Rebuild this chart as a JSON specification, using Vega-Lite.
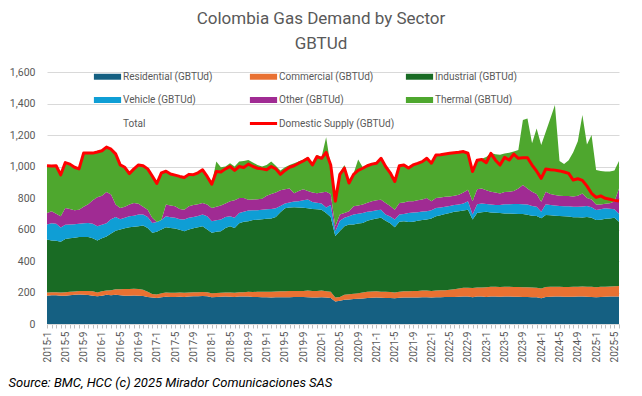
{
  "$schema": "https://vega.github.io/schema/vega-lite/v6.json",
  "width": 572,
  "height": 252,
  "autosize": {"type": "none"},
  "padding": {"left": 47, "top": 72, "right": 23, "bottom": 72},
  "background": "white",
  "config": {
    "font": "Roboto",
    "view": {"stroke": null},
    "axisY": {"grid": true, "gridColor": "#D9D9D9", "domain": false, "ticks": false, "labelColor": "#595959", "labelFontSize": 10.5, "labelPadding": 12, "labelFont": "Roboto"},
    "axisX": {"grid": false, "domainColor": "#D9D9D9", "tickColor": "#BFBFBF", "tickSize": 4, "labelColor": "#595959", "labelFontSize": 10, "labelFont": "Roboto", "labelPadding": 3}
  },
  "title": {
    "text": ["Colombia Gas Demand by Sector", "GBTUd"],
    "anchor": "middle",
    "dx": -12,
    "fontSize": 17,
    "font": "Roboto",
    "fontWeight": "normal",
    "color": "#595959",
    "lineHeight": 25,
    "offset": 14
  },
  "datasets": {
    "series": [
      {"key": "res", "label": "Residential (GBTUd)", "ord": 1},
      {"key": "com", "label": "Commercial (GBTUd)", "ord": 2},
      {"key": "ind", "label": "Industrial (GBTUd)", "ord": 3},
      {"key": "veh", "label": "Vehicle (GBTUd)", "ord": 4},
      {"key": "oth", "label": "Other (GBTUd)", "ord": 5},
      {"key": "thm", "label": "Thermal (GBTUd)", "ord": 6}
    ]
  },
  "data": {"values": [
    {"m":"2015-1","res":180,"com":20,"ind":337,"veh":95,"oth":73,"thm":297,"sup":1005},
    {"m":"2015-2","res":182,"com":20,"ind":328,"veh":110,"oth":76,"thm":284,"sup":1003},
    {"m":"2015-3","res":182,"com":20,"ind":326,"veh":108,"oth":64,"thm":303,"sup":1005},
    {"m":"2015-4","res":180,"com":20,"ind":322,"veh":90,"oth":72,"thm":261,"sup":947},
    {"m":"2015-5","res":180,"com":22,"ind":338,"veh":90,"oth":107,"thm":283,"sup":1025},
    {"m":"2015-6","res":183,"com":22,"ind":340,"veh":87,"oth":98,"thm":280,"sup":1015},
    {"m":"2015-7","res":185,"com":22,"ind":341,"veh":86,"oth":88,"thm":268,"sup":995},
    {"m":"2015-8","res":188,"com":22,"ind":342,"veh":84,"oth":89,"thm":257,"sup":985},
    {"m":"2015-9","res":186,"com":24,"ind":342,"veh":88,"oth":105,"thm":335,"sup":1085},
    {"m":"2015-10","res":184,"com":26,"ind":342,"veh":90,"oth":118,"thm":320,"sup":1085},
    {"m":"2015-11","res":180,"com":28,"ind":337,"veh":91,"oth":149,"thm":297,"sup":1085},
    {"m":"2015-12","res":176,"com":24,"ind":330,"veh":91,"oth":184,"thm":285,"sup":1092},
    {"m":"2016-1","res":180,"com":28,"ind":337,"veh":85,"oth":185,"thm":285,"sup":1100},
    {"m":"2016-2","res":185,"com":27,"ind":343,"veh":85,"oth":198,"thm":282,"sup":1123},
    {"m":"2016-3","res":183,"com":32,"ind":360,"veh":90,"oth":157,"thm":286,"sup":1110},
    {"m":"2016-4","res":186,"com":34,"ind":372,"veh":88,"oth":78,"thm":320,"sup":1080},
    {"m":"2016-5","res":182,"com":38,"ind":380,"veh":65,"oth":72,"thm":271,"sup":1010},
    {"m":"2016-6","res":180,"com":42,"ind":386,"veh":67,"oth":70,"thm":248,"sup":995},
    {"m":"2016-7","res":180,"com":42,"ind":393,"veh":69,"oth":74,"thm":195,"sup":955},
    {"m":"2016-8","res":181,"com":43,"ind":394,"veh":70,"oth":80,"thm":215,"sup":985},
    {"m":"2016-9","res":180,"com":42,"ind":399,"veh":74,"oth":69,"thm":244,"sup":1010},
    {"m":"2016-10","res":178,"com":40,"ind":407,"veh":70,"oth":50,"thm":258,"sup":1005},
    {"m":"2016-11","res":172,"com":33,"ind":405,"veh":70,"oth":46,"thm":257,"sup":985},
    {"m":"2016-12","res":168,"com":22,"ind":390,"veh":62,"oth":32,"thm":264,"sup":940},
    {"m":"2017-1","res":165,"com":23,"ind":397,"veh":63,"oth":0,"thm":242,"sup":892},
    {"m":"2017-2","res":170,"com":25,"ind":405,"veh":60,"oth":0,"thm":298,"sup":960},
    {"m":"2017-3","res":173,"com":27,"ind":415,"veh":69,"oth":74,"thm":210,"sup":970},
    {"m":"2017-4","res":172,"com":26,"ind":412,"veh":68,"oth":74,"thm":198,"sup":952},
    {"m":"2017-5","res":172,"com":26,"ind":408,"veh":68,"oth":73,"thm":195,"sup":945},
    {"m":"2017-6","res":173,"com":27,"ind":398,"veh":67,"oth":65,"thm":205,"sup":937},
    {"m":"2017-7","res":172,"com":26,"ind":391,"veh":74,"oth":63,"thm":206,"sup":930},
    {"m":"2017-8","res":175,"com":25,"ind":400,"veh":74,"oth":73,"thm":205,"sup":950},
    {"m":"2017-9","res":176,"com":26,"ind":406,"veh":72,"oth":75,"thm":195,"sup":948},
    {"m":"2017-10","res":176,"com":26,"ind":413,"veh":71,"oth":74,"thm":202,"sup":960},
    {"m":"2017-11","res":177,"com":26,"ind":418,"veh":74,"oth":73,"thm":214,"sup":979},
    {"m":"2017-12","res":176,"com":26,"ind":398,"veh":84,"oth":74,"thm":182,"sup":937},
    {"m":"2018-1","res":170,"com":25,"ind":384,"veh":74,"oth":84,"thm":153,"sup":888},
    {"m":"2018-2","res":172,"com":25,"ind":388,"veh":73,"oth":87,"thm":286,"sup":968},
    {"m":"2018-3","res":173,"com":25,"ind":391,"veh":74,"oth":89,"thm":243,"sup":965},
    {"m":"2018-4","res":174,"com":26,"ind":410,"veh":70,"oth":85,"thm":235,"sup":985},
    {"m":"2018-5","res":173,"com":27,"ind":421,"veh":63,"oth":95,"thm":242,"sup":1000},
    {"m":"2018-6","res":172,"com":26,"ind":412,"veh":64,"oth":111,"thm":215,"sup":975},
    {"m":"2018-7","res":174,"com":28,"ind":438,"veh":65,"oth":95,"thm":231,"sup":1000},
    {"m":"2018-8","res":174,"com":28,"ind":448,"veh":62,"oth":88,"thm":235,"sup":994},
    {"m":"2018-9","res":175,"com":29,"ind":449,"veh":67,"oth":69,"thm":253,"sup":1015},
    {"m":"2018-10","res":172,"com":31,"ind":457,"veh":62,"oth":68,"thm":235,"sup":1000},
    {"m":"2018-11","res":172,"com":33,"ind":457,"veh":60,"oth":70,"thm":218,"sup":989},
    {"m":"2018-12","res":170,"com":35,"ind":460,"veh":60,"oth":70,"thm":205,"sup":985},
    {"m":"2019-1","res":170,"com":35,"ind":463,"veh":60,"oth":87,"thm":195,"sup":980},
    {"m":"2019-2","res":168,"com":37,"ind":465,"veh":60,"oth":95,"thm":206,"sup":1000},
    {"m":"2019-3","res":170,"com":36,"ind":474,"veh":55,"oth":100,"thm":170,"sup":985},
    {"m":"2019-4","res":170,"com":38,"ind":502,"veh":40,"oth":100,"thm":125,"sup":950},
    {"m":"2019-5","res":170,"com":38,"ind":527,"veh":30,"oth":90,"thm":140,"sup":975},
    {"m":"2019-6","res":170,"com":40,"ind":530,"veh":32,"oth":88,"thm":150,"sup":995},
    {"m":"2019-7","res":171,"com":39,"ind":532,"veh":36,"oth":52,"thm":190,"sup":1005},
    {"m":"2019-8","res":172,"com":38,"ind":530,"veh":40,"oth":65,"thm":186,"sup":1021},
    {"m":"2019-9","res":171,"com":39,"ind":528,"veh":47,"oth":70,"thm":190,"sup":1035},
    {"m":"2019-10","res":170,"com":42,"ind":523,"veh":55,"oth":55,"thm":215,"sup":1052},
    {"m":"2019-11","res":168,"com":42,"ind":520,"veh":45,"oth":60,"thm":185,"sup":1010},
    {"m":"2019-12","res":168,"com":42,"ind":518,"veh":42,"oth":60,"thm":243,"sup":1063},
    {"m":"2020-1","res":170,"com":42,"ind":513,"veh":40,"oth":70,"thm":225,"sup":1052},
    {"m":"2020-2","res":168,"com":40,"ind":497,"veh":35,"oth":100,"thm":345,"sup":1090},
    {"m":"2020-3","res":165,"com":40,"ind":475,"veh":75,"oth":70,"thm":175,"sup":1010},
    {"m":"2020-4","res":143,"com":25,"ind":390,"veh":31,"oth":32,"thm":168,"sup":780},
    {"m":"2020-5","res":148,"com":24,"ind":418,"veh":65,"oth":40,"thm":265,"sup":950},
    {"m":"2020-6","res":154,"com":31,"ind":436,"veh":53,"oth":31,"thm":305,"sup":990},
    {"m":"2020-7","res":155,"com":34,"ind":442,"veh":53,"oth":32,"thm":189,"sup":895},
    {"m":"2020-8","res":158,"com":34,"ind":439,"veh":64,"oth":52,"thm":208,"sup":950},
    {"m":"2020-9","res":160,"com":35,"ind":443,"veh":62,"oth":52,"thm":293,"sup":975},
    {"m":"2020-10","res":162,"com":38,"ind":442,"veh":63,"oth":53,"thm":237,"sup":989},
    {"m":"2020-11","res":165,"com":40,"ind":450,"veh":57,"oth":58,"thm":240,"sup":1005},
    {"m":"2020-12","res":166,"com":40,"ind":457,"veh":53,"oth":63,"thm":241,"sup":1015},
    {"m":"2021-1","res":168,"com":40,"ind":462,"veh":52,"oth":63,"thm":240,"sup":1021},
    {"m":"2021-2","res":166,"com":39,"ind":469,"veh":52,"oth":63,"thm":266,"sup":1052},
    {"m":"2021-3","res":165,"com":40,"ind":450,"veh":40,"oth":73,"thm":235,"sup":1000},
    {"m":"2021-4","res":165,"com":38,"ind":437,"veh":42,"oth":68,"thm":212,"sup":960},
    {"m":"2021-5","res":163,"com":37,"ind":415,"veh":48,"oth":63,"thm":182,"sup":905},
    {"m":"2021-6","res":166,"com":39,"ind":445,"veh":45,"oth":73,"thm":240,"sup":1005},
    {"m":"2021-7","res":168,"com":40,"ind":444,"veh":46,"oth":74,"thm":240,"sup":1010},
    {"m":"2021-8","res":168,"com":40,"ind":440,"veh":57,"oth":74,"thm":214,"sup":990},
    {"m":"2021-9","res":168,"com":42,"ind":440,"veh":58,"oth":71,"thm":234,"sup":1010},
    {"m":"2021-10","res":168,"com":42,"ind":445,"veh":55,"oth":75,"thm":238,"sup":1020},
    {"m":"2021-11","res":170,"com":42,"ind":448,"veh":54,"oth":76,"thm":244,"sup":1031},
    {"m":"2021-12","res":170,"com":42,"ind":451,"veh":53,"oth":84,"thm":255,"sup":1052},
    {"m":"2022-1","res":168,"com":42,"ind":460,"veh":52,"oth":57,"thm":245,"sup":1021},
    {"m":"2022-2","res":170,"com":42,"ind":472,"veh":53,"oth":63,"thm":276,"sup":1073},
    {"m":"2022-3","res":170,"com":44,"ind":476,"veh":50,"oth":63,"thm":275,"sup":1075},
    {"m":"2022-4","res":171,"com":44,"ind":483,"veh":47,"oth":63,"thm":275,"sup":1080},
    {"m":"2022-5","res":172,"com":46,"ind":487,"veh":45,"oth":60,"thm":277,"sup":1084},
    {"m":"2022-6","res":172,"com":48,"ind":492,"veh":43,"oth":60,"thm":276,"sup":1088},
    {"m":"2022-7","res":173,"com":52,"ind":491,"veh":42,"oth":63,"thm":272,"sup":1090},
    {"m":"2022-8","res":175,"com":55,"ind":490,"veh":45,"oth":70,"thm":263,"sup":1095},
    {"m":"2022-9","res":175,"com":55,"ind":496,"veh":53,"oth":74,"thm":237,"sup":1084},
    {"m":"2022-10","res":170,"com":58,"ind":435,"veh":32,"oth":84,"thm":196,"sup":968},
    {"m":"2022-11","res":175,"com":57,"ind":473,"veh":55,"oth":95,"thm":190,"sup":1040},
    {"m":"2022-12","res":174,"com":58,"ind":478,"veh":55,"oth":96,"thm":189,"sup":1045},
    {"m":"2023-1","res":172,"com":62,"ind":479,"veh":49,"oth":88,"thm":210,"sup":1024},
    {"m":"2023-2","res":174,"com":62,"ind":472,"veh":50,"oth":82,"thm":245,"sup":1083},
    {"m":"2023-3","res":174,"com":62,"ind":470,"veh":50,"oth":79,"thm":243,"sup":1040},
    {"m":"2023-4","res":173,"com":62,"ind":469,"veh":51,"oth":74,"thm":246,"sup":1009},
    {"m":"2023-5","res":174,"com":62,"ind":466,"veh":58,"oth":78,"thm":245,"sup":1058},
    {"m":"2023-6","res":174,"com":62,"ind":466,"veh":59,"oth":79,"thm":248,"sup":1041},
    {"m":"2023-7","res":173,"com":62,"ind":465,"veh":62,"oth":83,"thm":250,"sup":1079},
    {"m":"2023-8","res":173,"com":62,"ind":464,"veh":63,"oth":98,"thm":245,"sup":1052},
    {"m":"2023-9","res":172,"com":62,"ind":464,"veh":62,"oth":122,"thm":413,"sup":1055},
    {"m":"2023-10","res":172,"com":62,"ind":460,"veh":64,"oth":102,"thm":445,"sup":1056},
    {"m":"2023-11","res":170,"com":62,"ind":456,"veh":62,"oth":90,"thm":307,"sup":1009},
    {"m":"2023-12","res":170,"com":60,"ind":455,"veh":60,"oth":80,"thm":417,"sup":970},
    {"m":"2024-1","res":163,"com":63,"ind":445,"veh":42,"oth":63,"thm":360,"sup":925},
    {"m":"2024-2","res":172,"com":63,"ind":457,"veh":68,"oth":80,"thm":380,"sup":984},
    {"m":"2024-3","res":173,"com":63,"ind":454,"veh":65,"oth":70,"thm":480,"sup":980},
    {"m":"2024-4","res":174,"com":62,"ind":452,"veh":64,"oth":67,"thm":571,"sup":977},
    {"m":"2024-5","res":174,"com":62,"ind":450,"veh":64,"oth":65,"thm":220,"sup":972},
    {"m":"2024-6","res":173,"com":62,"ind":449,"veh":64,"oth":65,"thm":203,"sup":965},
    {"m":"2024-7","res":173,"com":62,"ind":447,"veh":65,"oth":65,"thm":228,"sup":956},
    {"m":"2024-8","res":173,"com":63,"ind":442,"veh":67,"oth":65,"thm":280,"sup":914},
    {"m":"2024-9","res":174,"com":63,"ind":440,"veh":68,"oth":70,"thm":345,"sup":922},
    {"m":"2024-10","res":174,"com":64,"ind":438,"veh":70,"oth":83,"thm":498,"sup":912},
    {"m":"2024-11","res":173,"com":64,"ind":443,"veh":70,"oth":50,"thm":340,"sup":875},
    {"m":"2024-12","res":172,"com":64,"ind":439,"veh":67,"oth":48,"thm":410,"sup":830},
    {"m":"2025-1","res":170,"com":64,"ind":426,"veh":64,"oth":35,"thm":219,"sup":804},
    {"m":"2025-2","res":172,"com":64,"ind":426,"veh":66,"oth":30,"thm":214,"sup":813},
    {"m":"2025-3","res":173,"com":64,"ind":431,"veh":67,"oth":28,"thm":205,"sup":798},
    {"m":"2025-4","res":174,"com":64,"ind":432,"veh":62,"oth":35,"thm":201,"sup":792},
    {"m":"2025-5","res":174,"com":66,"ind":434,"veh":54,"oth":49,"thm":198,"sup":785},
    {"m":"2025-6","res":174,"com":68,"ind":408,"veh":50,"oth":161,"thm":174,"sup":781}
  ]},
  "encoding": {
    "x": {
      "field": "m",
      "type": "ordinal",
      "sort": null,
      "scale": {"type": "point", "padding": 0},
      "axis": {
        "title": "Source: BMC, HCC (c) 2025 Mirador Comunicaciones SAS",
        "titleAnchor": "start",
        "titleAlign": "left",
        "titleX": -39,
        "titleY": 62,
        "titleBaseline": "alphabetic",
        "titleFontStyle": "italic",
        "titleFontWeight": "normal",
        "titleFontSize": 13,
        "titleFont": "Roboto",
        "titleColor": "#000000",
        "labelAngle": -90,
        "labelAlign": "right",
        "labelBaseline": "middle",
        "labelOverlap": false,
        "labelExpr": "indexof(['1','5','9'], split(datum.value, '-')[1]) >= 0 ? datum.value : ''"
      }
    }
  },
  "layer": [
    {
      "transform": [
        {"fold": ["res", "com", "ind", "veh", "oth", "thm"], "as": ["key", "val"]},
        {"lookup": "key", "from": {"data": {"name": "series"}, "key": "key", "fields": ["label", "ord"]}}
      ],
      "mark": {"type": "area", "opacity": 1, "strokeWidth": 0, "interpolate": "linear"},
      "encoding": {
        "y": {
          "field": "val",
          "type": "quantitative",
          "stack": "zero",
          "scale": {"domain": [0, 1600], "nice": false},
          "axis": {"title": null, "values": [0, 200, 400, 600, 800, 1000, 1200, 1400, 1600], "labelExpr": "format(datum.value, ',')"}
        },
        "order": {"field": "ord", "type": "quantitative", "sort": "ascending"},
        "color": {
          "field": "label",
          "type": "nominal",
          "scale": {
            "domain": ["Residential (GBTUd)", "Commercial (GBTUd)", "Industrial (GBTUd)", "Vehicle (GBTUd)", "Other (GBTUd)", "Thermal (GBTUd)", "Total", "Domestic Supply (GBTUd)"],
            "range": ["#156082", "#E97132", "#196B24", "#0F9ED5", "#A02B93", "#4EA72E", "rgba(0,0,0,0)", "#FF0000"]
          },
          "legend": {
            "orient": "none",
            "legendX": 52,
            "legendY": -4,
            "direction": "horizontal",
            "columns": 3,
            "gridAlign": "all",
            "columnPadding": 10,
            "rowPadding": 9.5,
            "padding": 0,
            "title": null,
            "symbolType": "M-1.6,-0.35H1.6V0.35H-1.6Z",
            "symbolSize": 289,
            "symbolStrokeWidth": 0,
            "symbolOpacity": 1,
            "labelFont": "Roboto",
            "labelFontSize": 10,
            "labelColor": "#595959",
            "labelOffset": 7,
            "labelLimit": 300,
            "encode": {
              "symbols": {
                "update": {
                  "shape": {"signal": "datum.value === 'Domestic Supply (GBTUd)' ? 'M-1.6,-0.18H1.6V0.18H-1.6Z' : 'M-1.6,-0.35H1.6V0.35H-1.6Z'"},
                  "fill": {"scale": "color", "field": "value"},
                  "stroke": {"value": "transparent"},
                  "opacity": {"value": 1}
                }
              }
            }
          }
        }
      }
    },
    {
      "mark": {"type": "line", "strokeWidth": 3, "strokeJoin": "round", "interpolate": "linear"},
      "encoding": {
        "y": {
          "field": "sup",
          "type": "quantitative",
          "scale": {"domain": [0, 1600], "nice": false},
          "axis": {"title": null, "values": [0, 200, 400, 600, 800, 1000, 1200, 1400, 1600], "labelExpr": "format(datum.value, ',')"}
        },
        "color": {"datum": "Domestic Supply (GBTUd)", "type": "nominal"}
      }
    }
  ]
}
